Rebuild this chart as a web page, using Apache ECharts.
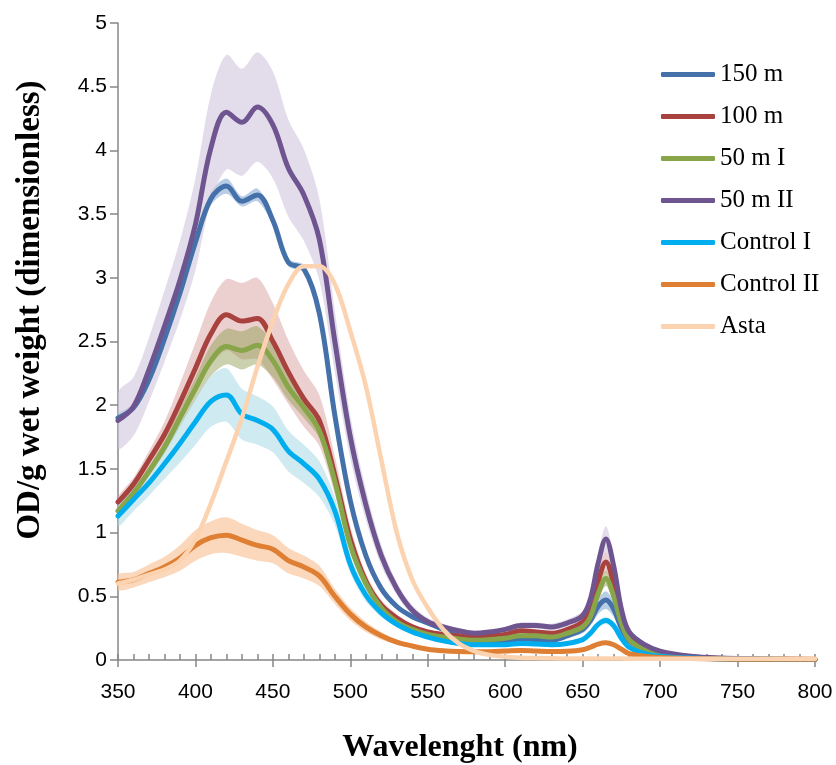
<!DOCTYPE html>
<html>
<head>
<meta charset="utf-8">
<script src="https://cdn.jsdelivr.net/npm/echarts@6/dist/echarts.min.js"></script>
<style>html,body{margin:0;padding:0;background:#fff}#c{width:836px;height:765px}</style>
</head>
<body>
<div id="c"></div>
<script>
const wavelengths = [350,360,370,380,390,400,410,420,430,440,450,460,470,480,490,500,510,520,530,540,550,560,570,580,590,600,610,620,630,640,650,655,660,665,670,675,680,690,700,720,740,760,780,800];

const od150 = [1.9,1.98,2.2,2.52,2.88,3.28,3.62,3.72,3.6,3.65,3.45,3.12,3.07,2.72,1.92,1.25,0.82,0.56,0.42,0.34,0.29,0.24,0.19,0.155,0.145,0.15,0.165,0.16,0.155,0.19,0.24,0.31,0.42,0.47,0.4,0.25,0.15,0.08,0.045,0.02,0.01,0.007,0.005,0.004];
const err150 = [0.03,0.03,0.03,0.03,0.03,0.04,0.05,0.06,0.04,0.05,0.04,0.03,0.03,0.02,0.02,0.02,0.015,0.01,0.01,0.01,0.01,0.01,0.01,0.01,0.01,0.01,0.01,0.01,0.01,0.015,0.03,0.04,0.06,0.07,0.06,0.03,0.02,0.01,0.005,0.003,0.002,0.002,0.002,0.002];

const od100 = [1.24,1.38,1.57,1.77,2.02,2.29,2.56,2.71,2.66,2.68,2.5,2.26,2.05,1.88,1.45,0.95,0.62,0.43,0.33,0.26,0.22,0.2,0.19,0.18,0.19,0.2,0.23,0.22,0.21,0.24,0.3,0.4,0.62,0.77,0.6,0.34,0.19,0.1,0.055,0.025,0.012,0.008,0.006,0.004];
const err100 = [0.04,0.05,0.07,0.1,0.15,0.2,0.25,0.28,0.3,0.32,0.3,0.25,0.22,0.2,0.15,0.1,0.06,0.04,0.03,0.02,0.015,0.015,0.015,0.015,0.015,0.015,0.02,0.02,0.02,0.02,0.03,0.05,0.07,0.08,0.07,0.04,0.02,0.01,0.005,0.003,0.002,0.002,0.002,0.002];

const od50I = [1.17,1.31,1.48,1.67,1.9,2.13,2.35,2.46,2.43,2.47,2.35,2.14,1.98,1.8,1.4,0.9,0.6,0.41,0.3,0.24,0.2,0.18,0.165,0.155,0.16,0.17,0.19,0.19,0.18,0.21,0.26,0.34,0.52,0.64,0.5,0.29,0.16,0.08,0.045,0.02,0.01,0.007,0.005,0.004];
const err50I = [0.03,0.03,0.04,0.05,0.07,0.09,0.12,0.14,0.15,0.15,0.13,0.1,0.08,0.06,0.04,0.03,0.02,0.015,0.01,0.01,0.01,0.01,0.01,0.01,0.01,0.01,0.01,0.01,0.01,0.01,0.02,0.03,0.05,0.06,0.05,0.03,0.015,0.01,0.005,0.003,0.002,0.002,0.002,0.002];

const od50II = [1.88,1.99,2.28,2.62,2.98,3.42,4.02,4.3,4.22,4.34,4.2,3.86,3.65,3.3,2.5,1.75,1.22,0.82,0.56,0.39,0.3,0.26,0.23,0.21,0.22,0.24,0.27,0.27,0.26,0.29,0.35,0.48,0.76,0.95,0.74,0.4,0.22,0.12,0.07,0.03,0.015,0.01,0.006,0.004];
const err50II = [0.22,0.23,0.25,0.28,0.31,0.36,0.42,0.45,0.42,0.43,0.42,0.38,0.36,0.32,0.24,0.17,0.12,0.08,0.05,0.04,0.03,0.025,0.02,0.02,0.02,0.02,0.025,0.025,0.025,0.03,0.035,0.05,0.08,0.1,0.08,0.04,0.02,0.01,0.01,0.005,0.003,0.002,0.002,0.002];

const odCtrlI = [1.13,1.26,1.39,1.54,1.7,1.87,2.03,2.08,1.93,1.88,1.81,1.64,1.54,1.42,1.17,0.75,0.51,0.37,0.28,0.22,0.18,0.15,0.13,0.12,0.12,0.12,0.13,0.125,0.12,0.13,0.16,0.21,0.28,0.31,0.27,0.17,0.1,0.05,0.03,0.015,0.008,0.006,0.004,0.003];
const errCtrlI = [0.08,0.09,0.1,0.12,0.15,0.18,0.2,0.21,0.2,0.19,0.18,0.16,0.15,0.14,0.11,0.07,0.05,0.03,0.02,0.02,0.015,0.01,0.01,0.01,0.01,0.01,0.01,0.01,0.01,0.01,0.015,0.02,0.02,0.03,0.02,0.015,0.01,0.005,0.003,0.002,0.002,0.002,0.002,0.002];

const odCtrlII = [0.61,0.63,0.68,0.73,0.8,0.9,0.96,0.98,0.94,0.9,0.87,0.78,0.73,0.66,0.5,0.36,0.26,0.19,0.14,0.11,0.085,0.072,0.066,0.064,0.065,0.07,0.075,0.07,0.066,0.068,0.08,0.1,0.125,0.135,0.12,0.085,0.05,0.03,0.02,0.012,0.008,0.006,0.005,0.005];
const errCtrlII = [0.06,0.06,0.07,0.08,0.1,0.12,0.13,0.14,0.13,0.12,0.11,0.1,0.09,0.08,0.06,0.05,0.04,0.03,0.02,0.015,0.01,0.01,0.01,0.01,0.01,0.01,0.01,0.01,0.01,0.01,0.01,0.012,0.015,0.015,0.015,0.012,0.01,0.005,0.003,0.002,0.002,0.002,0.002,0.002];

const odAsta = [0.6,0.63,0.67,0.71,0.78,0.95,1.23,1.56,1.9,2.3,2.66,2.95,3.09,3.09,2.95,2.58,2.15,1.57,1.0,0.63,0.41,0.24,0.13,0.07,0.04,0.025,0.018,0.015,0.013,0.012,0.012,0.012,0.012,0.012,0.011,0.011,0.01,0.01,0.01,0.01,0.01,0.01,0.01,0.01];

const xTicks = [350,400,450,500,550,600,650,700,750,800];
const yTicks = [0,0.5,1,1.5,2,2.5,3,3.5,4,4.5,5];

const seriesDefs = [
  {name:'150 m', vals:od150, err:err150, color:'#4471A9', band:'#A3BCDD', op:0.75},
  {name:'100 m', vals:od100, err:err100, color:'#A8423F', band:'#E0B0AF', op:0.6},
  {name:'50 m I', vals:od50I, err:err50I, color:'#88A54A', band:'#8C994C', op:0.45},
  {name:'50 m II', vals:od50II, err:err50II, color:'#6F5590', band:'#CFC5DD', op:0.6},
  {name:'Control I', vals:odCtrlI, err:errCtrlI, color:'#00AEEF', band:'#A8D8E6', op:0.55},
  {name:'Control II', vals:odCtrlII, err:errCtrlII, color:'#DE7F33', band:'#F9C7A0', op:0.7},
  {name:'Asta', vals:odAsta, err:null, color:'#FCD3B0'}
];

const chart = echarts.init(document.getElementById('c'), null, {renderer:'canvas'});
const series = [];

seriesDefs.forEach(function(d, k){
  if (!d.err) return;
  const data = wavelengths.map(function(w,i){ return [w, d.vals[i]-d.err[i], d.vals[i]+d.err[i]]; });
  series.push({
    type:'custom', name: d.name + ' band', coordinateSystem:'cartesian2d',
    silent:true, z:1, clip:true,
    encode:{x:0, y:[1,2]},
    data: data,
    renderItem: function(params, api){
      if (params.dataIndex !== 0) return null;
      const up = [], lo = [];
      for (let i=0;i<data.length;i++){
        up.push(api.coord([data[i][0], data[i][2]]));
        lo.push(api.coord([data[i][0], Math.max(0,data[i][1])]));
      }
      const pts = up.concat(lo.reverse());
      return {type:'polygon', shape:{points:pts, smooth:0.3}, style:{fill:d.band, opacity:d.op}};
    }
  });
});

seriesDefs.forEach(function(d){
  series.push({
    type:'line', name:d.name, z:3,
    data: wavelengths.map(function(w,i){ return [w, d.vals[i]]; }),
    smooth:0.35, symbol:'none', showSymbol:false,
    color:d.color,
    itemStyle:{color:d.color},
    lineStyle:{color:d.color, width: d.name==='Asta'?4.5:5, cap:'round', join:'round'},
    emphasis:{disabled:true}, silent:true, animation:false
  });
});

const axisGray = '#878787';
chart.setOption({
  animation:false,
  grid:{left:118, right:21, top:23, bottom:105, containLabel:false, outerBoundsMode:'none'},
  legend:{
    orient:'vertical', left:656, top:57, icon:'roundRect',
    itemWidth:54, itemHeight:5, itemGap:17, itemTextGap:5,
    data: seriesDefs.map(function(d){return d.name;}),
    textStyle:{fontFamily:'"Liberation Serif", "Times New Roman", serif', fontSize:25, color:'#000'},
    selectedMode:false
  },
  xAxis:[{
    type:'value', min:xTicks[0], max:xTicks[xTicks.length-1], interval:50,
    axisLine:{show:true, lineStyle:{color:axisGray, width:1.5}},
    axisTick:{show:true, inside:false, length:7, lineStyle:{color:axisGray, width:1.5}},
    axisLabel:{fontFamily:'"Liberation Sans", Arial, sans-serif', fontSize:21, color:'#000', margin:22, showMinLabel:true, showMaxLabel:true},
    splitLine:{show:false}
  },{
    type:'value', min:350, max:800, interval:10, position:'bottom',
    axisLine:{show:false},
    axisTick:{show:true, inside:true, length:6, lineStyle:{color:axisGray, width:1.5}},
    axisLabel:{show:false}, splitLine:{show:false}
  }],
  yAxis:{
    type:'value', min:yTicks[0], max:yTicks[yTicks.length-1], interval:0.5,
    axisLine:{show:true, lineStyle:{color:axisGray, width:1.5}},
    axisTick:{show:true, inside:false, length:8, lineStyle:{color:axisGray, width:1.5}},
    axisLabel:{fontFamily:'"Liberation Sans", Arial, sans-serif', fontSize:21, color:'#000', margin:11},
    splitLine:{show:false}
  },
  graphic:[
    {type:'text', x:460, y:748, silent:true,
     style:{text:'Wavelenght (nm)', font:'bold 32px "Liberation Serif", "Times New Roman", serif', fill:'#000', align:'center', verticalAlign:'middle'}},
    {type:'text', x:30, y:310, rotation:Math.PI/2, silent:true,
     style:{text:'OD/g wet weight (dimensionless)', font:'bold 33px "Liberation Serif", "Times New Roman", serif', fill:'#000', align:'center', verticalAlign:'middle'}}
  ],
  series: series
});
</script>
</body>
</html>
